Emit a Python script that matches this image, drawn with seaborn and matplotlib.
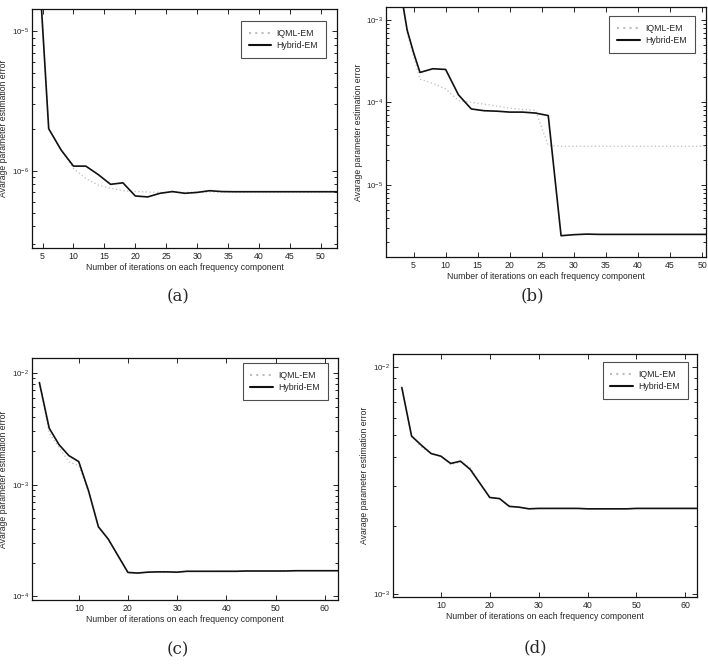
import numpy as np
import pandas as pd
import matplotlib
matplotlib.use("Agg")
import matplotlib.pyplot as plt
import seaborn as sns
from matplotlib.ticker import LogLocator, FixedLocator, NullFormatter

# ---------------- data ----------------
a_x = [2, 4, 6, 8, 10, 12, 14, 16, 18, 20, 22, 24, 26, 28, 30, 32, 34, 36, 38, 40,
       42, 44, 46, 48, 50, 52, 54]
a_hybrid = [3e-4, 6e-5, 2.0e-6, 1.41e-6, 1.08e-6, 1.08e-6, 9.4e-7, 8.0e-7, 8.2e-7, 6.6e-7,
            6.5e-7, 6.9e-7, 7.1e-7, 6.9e-7, 7.0e-7, 7.2e-7, 7.1e-7, 7.08e-7, 7.08e-7, 7.08e-7,
            7.08e-7, 7.08e-7, 7.08e-7, 7.08e-7, 7.08e-7, 7.08e-7, 7.08e-7]
a_iqml = [3e-4, 6e-5, 2.0e-6, 1.41e-6, 1.04e-6, 8.8e-7, 7.9e-7, 7.5e-7, 7.2e-7, 7.1e-7,
          7.05e-7, 7.0e-7, 7.0e-7, 7.0e-7, 7.02e-7, 7.05e-7, 7.05e-7, 7.05e-7, 7.05e-7, 7.05e-7,
          7.05e-7, 7.05e-7, 7.05e-7, 7.05e-7, 7.05e-7, 7.05e-7, 7.05e-7]

b_x = [2, 3, 4, 5, 6, 8, 10, 12, 14, 16, 18, 20, 22, 24, 26, 28, 30, 32, 34, 36, 38, 40,
       42, 44, 46, 48, 50, 52]
b_hybrid = [8e-3, 2.2e-3, 7.5e-4, 4.0e-4, 2.3e-4, 2.55e-4, 2.5e-4, 1.23e-4, 8.3e-5, 7.9e-5,
            7.8e-5, 7.6e-5, 7.6e-5, 7.4e-5, 6.9e-5, 2.41e-6, 2.48e-6, 2.52e-6, 2.5e-6, 2.5e-6,
            2.5e-6, 2.5e-6, 2.5e-6, 2.5e-6, 2.5e-6, 2.5e-6, 2.5e-6, 2.5e-6]
b_iqml = [8e-3, 2.2e-3, 7.0e-4, 3.6e-4, 1.9e-4, 1.7e-4, 1.45e-4, 1.05e-4, 1.0e-4, 9.5e-5,
          9.0e-5, 8.5e-5, 8.2e-5, 8.0e-5, 3.0e-5, 2.93e-5, 2.93e-5, 2.93e-5, 2.93e-5, 2.93e-5,
          2.93e-5, 2.93e-5, 2.93e-5, 2.93e-5, 2.93e-5, 2.93e-5, 2.93e-5, 2.93e-5]

c_x = [2, 4, 6, 8, 10, 12, 14, 16, 18, 20, 22, 24, 26, 28, 30, 32, 34, 36, 38, 40,
       42, 44, 46, 48, 50, 52, 54, 56, 58, 60, 62, 64]
c_hybrid = [8.2e-3, 3.2e-3, 2.28e-3, 1.82e-3, 1.61e-3, 8.8e-4, 4.2e-4, 3.26e-4, 2.31e-4, 1.64e-4,
            1.62e-4, 1.65e-4, 1.66e-4, 1.66e-4, 1.65e-4, 1.68e-4, 1.68e-4, 1.68e-4, 1.68e-4, 1.68e-4,
            1.68e-4, 1.69e-4, 1.69e-4, 1.69e-4, 1.69e-4, 1.69e-4, 1.7e-4, 1.7e-4, 1.7e-4, 1.7e-4,
            1.7e-4, 1.7e-4]
c_iqml = [8.2e-3, 2.9e-3, 2.15e-3, 1.6e-3, 1.48e-3, 8.6e-4, 4.2e-4, 3.26e-4, 2.31e-4, 1.64e-4,
          1.62e-4, 1.65e-4, 1.66e-4, 1.66e-4, 1.65e-4, 1.68e-4, 1.68e-4, 1.68e-4, 1.68e-4, 1.68e-4,
          1.68e-4, 1.69e-4, 1.69e-4, 1.69e-4, 1.69e-4, 1.69e-4, 1.7e-4, 1.7e-4, 1.7e-4, 1.7e-4,
          1.7e-4, 1.7e-4]

d_x = [2, 4, 6, 8, 10, 12, 14, 16, 18, 20, 22, 24, 26, 28, 30, 32, 34, 36, 38, 40,
       42, 44, 46, 48, 50, 52, 54, 56, 58, 60, 62, 64]
d_hybrid = [8.15e-3, 4.97e-3, 4.53e-3, 4.16e-3, 4.05e-3, 3.76e-3, 3.85e-3, 3.54e-3, 3.07e-3, 2.66e-3,
            2.63e-3, 2.43e-3, 2.41e-3, 2.37e-3, 2.38e-3, 2.38e-3, 2.38e-3, 2.38e-3, 2.38e-3, 2.37e-3,
            2.37e-3, 2.37e-3, 2.37e-3, 2.37e-3, 2.38e-3, 2.38e-3, 2.38e-3, 2.38e-3, 2.38e-3, 2.38e-3,
            2.38e-3, 2.38e-3]
d_iqml = [8.15e-3, 4.97e-3, 4.45e-3, 4.16e-3, 4.05e-3, 3.72e-3, 3.82e-3, 3.6e-3, 3.07e-3, 2.66e-3,
          2.63e-3, 2.43e-3, 2.41e-3, 2.37e-3, 2.38e-3, 2.38e-3, 2.38e-3, 2.38e-3, 2.38e-3, 2.37e-3,
          2.37e-3, 2.37e-3, 2.37e-3, 2.37e-3, 2.38e-3, 2.38e-3, 2.38e-3, 2.38e-3, 2.38e-3, 2.38e-3,
          2.38e-3, 2.38e-3]

series_names = ["IQML-EM", "Hybrid-EM"]
panel_labels = ["(a)", "(b)", "(c)", "(d)"]
x_label = "Number of iterations on each frequency component"
y_label = "Avarage parameter estimation error"

a_xticks = [5, 10, 15, 20, 25, 30, 35, 40, 45, 50]
b_xticks = [5, 10, 15, 20, 25, 30, 35, 40, 45, 50]
c_xticks = [10, 20, 30, 40, 50, 60]
d_xticks = [10, 20, 30, 40, 50, 60]

# ---------------- style ----------------
sns.set_style("ticks")
plt.rcParams["font.family"] = ["Liberation Sans", "DejaVu Sans"]
plt.rcParams["mathtext.fontset"] = "custom"
plt.rcParams["mathtext.rm"] = "Liberation Sans"
plt.rcParams["mathtext.it"] = "Liberation Sans:italic"
plt.rcParams["axes.linewidth"] = 0.9

W, H = 708, 667
fig = plt.figure(figsize=(W / 100, H / 100), dpi=100)


def px_axes(left, top, right, bottom):
    return fig.add_axes([left / W, 1 - bottom / H, (right - left) / W, (bottom - top) / H])


panels = [
    dict(x=a_x, h=a_hybrid, q=a_iqml, box=(32, 9, 337, 248), xlim=(3.3, 52.6),
         ylim=(2.8e-7, 1.44e-5), xticks=a_xticks, leg=(0.964, 0.95), lab=(178, 297), ylx=8),
    dict(x=b_x, h=b_hybrid, q=b_iqml, box=(386, 7, 706, 257), xlim=(0.7, 50.6),
         ylim=(1.33e-6, 1.43e-3), xticks=b_xticks, leg=(0.965, 0.963), lab=(532, 296), ylx=363),
    dict(x=c_x, h=c_hybrid, q=c_iqml, box=(32, 358, 338, 600), xlim=(0.5, 62.7),
         ylim=(9.3e-5, 1.36e-2), xticks=c_xticks, leg=(0.967, 0.98), lab=(178, 650), ylx=8),
    dict(x=d_x, h=d_hybrid, q=d_iqml, box=(393, 354, 697, 597), xlim=(0.2, 62.4),
         ylim=(9.66e-4, 1.146e-2), xticks=d_xticks, leg=(0.97, 0.967), lab=(535, 648), ylx=369),
]

for p, lab in zip(panels, panel_labels):
    ax = px_axes(*p["box"])
    df = pd.DataFrame({
        "x": list(p["x"]) * 2,
        "err": list(p["q"]) + list(p["h"]),
        "method": [series_names[0]] * len(p["x"]) + [series_names[1]] * len(p["x"]),
    })
    sns.lineplot(data=df, x="x", y="err", hue="method", style="method",
                 palette={"IQML-EM": "#bdbdbd", "Hybrid-EM": "#111111"},
                 dashes={"IQML-EM": (1, 2), "Hybrid-EM": ""},
                 hue_order=series_names, style_order=series_names,
                 estimator=None, sort=False, ax=ax, legend=True)
    for ln, lw, z in zip(ax.lines[:2], [0.9, 1.2], [2, 3]):
        ln.set_linewidth(lw)
        ln.set_zorder(z)
    ax.set_yscale("log")
    ax.set_xlim(*p["xlim"])
    ax.set_ylim(*p["ylim"])
    ax.xaxis.set_major_locator(FixedLocator(p["xticks"]))
    ax.yaxis.set_major_locator(LogLocator(base=10, numticks=10))
    ax.yaxis.set_minor_locator(LogLocator(base=10, subs=np.arange(2, 10), numticks=20))
    ax.yaxis.set_minor_formatter(NullFormatter())
    ax.tick_params(which="both", direction="in", top=True, right=True,
                   labelsize=6.3, width=0.7, pad=3)
    ax.tick_params(axis="y", labelsize=5.8, pad=2)
    ax.tick_params(which="major", length=3.5)
    ax.tick_params(which="minor", length=2.2)
    for s in ax.spines.values():
        s.set_visible(True)
        s.set_color("#111111")
    ax.set_xlabel(x_label, fontsize=6.2, labelpad=1)
    ax.set_ylabel(y_label, fontsize=6.2)
    left, top, right, bottom = p["box"]
    ax.yaxis.set_label_coords((p["ylx"] - left) / (right - left), 0.5)
    handles, labels = ax.get_legend_handles_labels()
    leg = ax.legend(handles, labels, loc="upper right", bbox_to_anchor=p["leg"],
                    fontsize=6.3, frameon=True, fancybox=False, borderaxespad=0,
                    handlelength=2.6, handletextpad=0.6, borderpad=0.9,
                    labelspacing=0.35, title=None)
    leg.get_frame().set_edgecolor("#222222")
    leg.get_frame().set_linewidth(0.8)
    fig.text(p["lab"][0] / W, 1 - p["lab"][1] / H, lab, ha="center", va="center",
             fontsize=12, family=["DejaVu Serif"])

fig.savefig("out.png", dpi=100)
